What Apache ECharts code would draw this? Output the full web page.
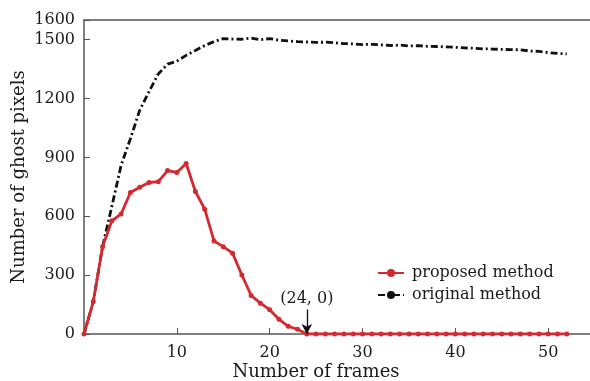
<!DOCTYPE html>
<html>
<head>
<meta charset="utf-8">
<script src="https://cdn.jsdelivr.net/npm/echarts@6/dist/echarts.min.js"></script>
<style>
  html, body { margin: 0; padding: 0; background: #fff; }
  #chart { width: 590px; height: 381px; }
</style>
</head>
<body>
<div id="chart"></div>
<script>
// frame numbers (x)
const frames = [0, 1, 2, 3, 4, 5, 6, 7, 8, 9, 10, 11, 12, 13, 14, 15, 16, 17, 18, 19, 20,
  21, 22, 23, 24, 25, 26, 27, 28, 29, 30, 31, 32, 33, 34, 35, 36, 37, 38, 39, 40,
  41, 42, 43, 44, 45, 46, 47, 48, 49, 50, 51, 52];

// ghost pixels, proposed method
const proposed = [0, 165, 445, 577, 612, 721, 748, 772, 776, 833, 823, 869, 726, 636, 474, 445,
  412, 301, 196, 157, 124, 75, 39, 24, 0, 0, 0, 0, 0, 0, 0, 0, 0, 0, 0, 0, 0, 0, 0, 0, 0,
  0, 0, 0, 0, 0, 0, 0, 0, 0, 0, 0, 0];

// ghost pixels, original method
const original = [0, 165, 445, 650, 860, 995, 1140, 1235, 1325, 1375, 1390, 1420, 1445, 1470,
  1490, 1505, 1503, 1502, 1508, 1500, 1505, 1497, 1493, 1490, 1488, 1486, 1487, 1484, 1480,
  1478, 1475, 1476, 1473, 1470, 1472, 1468, 1469, 1466, 1465, 1463, 1461, 1458, 1456, 1453,
  1452, 1450, 1449, 1448, 1442, 1440, 1434, 1430, 1427];

const seriesNames = ['proposed method', 'original method'];
const note = { frame: 24, value: 0, top: 125 };

const font = 'DejaVu Serif';
const axisColor = '#555';
const textColor = '#1a1a1a';

const myChart = echarts.init(document.getElementById('chart'));
const option = {
  animation: false,
  grid: { left: 84, top: 20, right: 0, bottom: 47, outerBoundsMode: 'none' },
  legend: {
    orient: 'vertical',
    left: 372,
    top: 260,
    itemWidth: 26,
    itemHeight: 10,
    itemGap: 6,
    textStyle: { fontFamily: font, fontSize: 16, color: textColor, padding: [0, 0, 0, 3] },
    data: seriesNames
  },
  xAxis: [{
    type: 'value',
    min: 0,
    max: 54.5,
    interval: 10,
    name: 'Number of frames',
    nameLocation: 'middle',
    nameGap: 29,
    nameMoveOverlap: false,
    nameTextStyle: { fontFamily: font, fontSize: 18, color: textColor, padding: [0, 42, 0, 0] },
    axisLine: { lineStyle: { color: axisColor, width: 1.5 } },
    axisTick: { inside: true, length: 6, lineStyle: { color: axisColor } },
    axisLabel: { showMinLabel: false, showMaxLabel: false, fontFamily: font, fontSize: 16, color: textColor, margin: 11 },
    splitLine: { show: false }
  }, {
    type: 'value',
    position: 'top',
    min: 0,
    max: 54.5,
    axisLine: { lineStyle: { color: axisColor, width: 1.5 } },
    axisTick: { show: false },
    axisLabel: { show: false },
    splitLine: { show: false }
  }],
  yAxis: {
    type: 'value',
    min: 0,
    max: 1600,
    interval: 300,
    name: 'Number of ghost pixels',
    nameLocation: 'middle',
    nameGap: 56,
    nameMoveOverlap: false,
    nameTextStyle: { fontFamily: font, fontSize: 18, color: textColor },
    axisLine: { show: true, lineStyle: { color: axisColor, width: 1.5 } },
    axisTick: { show: true, inside: true, length: 6, lineStyle: { color: axisColor } },
    axisLabel: { fontFamily: font, fontSize: 16, color: textColor, margin: 9, formatter: v => String(v) },
    splitLine: { show: false }
  },
  series: [{
    name: seriesNames[1],
    type: 'line',
    data: frames.map((f, i) => [f, original[i]]),
    symbol: 'none',
    lineStyle: { color: '#111', width: 2.8, type: [7, 3, 2, 3] },
    itemStyle: { color: '#111' },
    z: 2
  }, {
    name: seriesNames[0],
    type: 'line',
    data: frames.map((f, i) => [f, proposed[i]]),
    symbol: 'circle',
    symbolSize: 5,
    lineStyle: { color: '#d42a2f', width: 2.8 },
    itemStyle: { color: '#d42a2f' },
    z: 3,
    markLine: {
      silent: true,
      symbol: ['none', 'arrow'],
      symbolSize: [8, 10],
      lineStyle: { color: '#111', width: 1.3, type: 'solid' },
      label: {
        show: true,
        position: 'start',
        formatter: '(' + note.frame + ', ' + note.value + ')',
        fontFamily: font,
        fontSize: 16,
        color: textColor,
        distance: 3
      },
      data: [[{ coord: [note.frame, note.top] }, { coord: [note.frame, note.value] }]]
    }
  }]
};
myChart.setOption(option);
</script>
</body>
</html>
